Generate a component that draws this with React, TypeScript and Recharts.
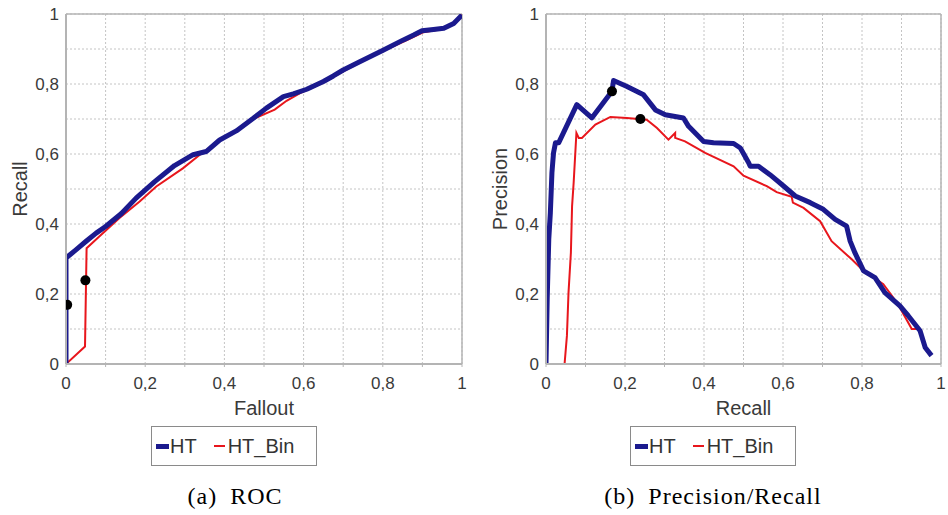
import React from "react";
import {
  ComposedChart,
  Line,
  Scatter,
  XAxis,
  YAxis,
  CartesianGrid,
  ReferenceLine,
} from "recharts";

// ROC: Fallout (x) / Recall (y)
const rocHtFallout = [0, 0, 0.01, 0.025, 0.05, 0.076, 0.1, 0.14, 0.177, 0.224, 0.274, 0.321, 0.354, 0.388, 0.43, 0.473, 0.506, 0.549, 0.574, 0.608, 0.65, 0.675, 0.7, 0.743, 0.802, 0.852, 0.878, 0.899, 0.928, 0.954, 0.979, 1.0];
const rocHtRecall = [0, 0.303, 0.312, 0.326, 0.35, 0.374, 0.393, 0.43, 0.474, 0.521, 0.567, 0.598, 0.607, 0.64, 0.666, 0.702, 0.731, 0.764, 0.772, 0.785, 0.807, 0.823, 0.84, 0.864, 0.897, 0.926, 0.94, 0.952, 0.956, 0.959, 0.973, 0.997];
const rocBinFallout = [0, 0.048, 0.052, 0.084, 0.135, 0.186, 0.228, 0.295, 0.338, 0.388, 0.43, 0.473, 0.527, 0.557, 0.591, 0.65, 0.7, 0.743, 0.802, 0.869, 0.903, 0.954, 0.979, 1.0];
const rocBinRecall = [0, 0.05, 0.331, 0.364, 0.417, 0.464, 0.507, 0.559, 0.598, 0.638, 0.664, 0.7, 0.727, 0.752, 0.774, 0.804, 0.836, 0.862, 0.895, 0.93, 0.948, 0.958, 0.972, 0.997];
const rocDotFallout = [0.003, 0.049];
const rocDotRecall = [0.169, 0.239];

// Precision / Recall
const prHtRecall = [0, 0.003, 0.007, 0.011, 0.015, 0.019, 0.024, 0.032, 0.078, 0.116, 0.167, 0.171, 0.205, 0.247, 0.277, 0.302, 0.348, 0.361, 0.399, 0.424, 0.475, 0.492, 0.513, 0.517, 0.538, 0.567, 0.597, 0.631, 0.669, 0.702, 0.732, 0.761, 0.77, 0.782, 0.804, 0.833, 0.858, 0.896, 0.917, 0.947, 0.96, 0.976];
const prHtPrecision = [0, 0.185, 0.356, 0.432, 0.546, 0.603, 0.632, 0.632, 0.741, 0.703, 0.779, 0.81, 0.793, 0.769, 0.726, 0.712, 0.703, 0.679, 0.636, 0.632, 0.63, 0.617, 0.575, 0.565, 0.565, 0.541, 0.513, 0.48, 0.461, 0.442, 0.413, 0.394, 0.351, 0.318, 0.266, 0.247, 0.204, 0.166, 0.138, 0.095, 0.047, 0.024];
const prBinRecall = [0.047, 0.053, 0.057, 0.063, 0.066, 0.07, 0.077, 0.083, 0.091, 0.125, 0.163, 0.205, 0.255, 0.281, 0.31, 0.327, 0.327, 0.352, 0.403, 0.475, 0.5, 0.559, 0.584, 0.622, 0.625, 0.652, 0.694, 0.723, 0.774, 0.804, 0.83, 0.854, 0.879, 0.896, 0.926, 0.943];
const prBinPrecision = [0, 0.081, 0.204, 0.318, 0.451, 0.518, 0.66, 0.646, 0.646, 0.684, 0.706, 0.703, 0.698, 0.674, 0.641, 0.66, 0.646, 0.636, 0.603, 0.565, 0.538, 0.508, 0.491, 0.478, 0.461, 0.446, 0.408, 0.351, 0.299, 0.266, 0.247, 0.228, 0.19, 0.161, 0.1, 0.1];
const prDotRecall = [0.167, 0.239];
const prDotPrecision = [0.779, 0.7];

const axisTicks = [0, 0.1, 0.2, 0.3, 0.4, 0.5, 0.6, 0.7, 0.8, 0.9, 1];
const seriesNames = ["HT", "HT_Bin"];

const BLUE = "#1b1a8e";
const RED = "#e8161c";
const FRAME = "#b4b4b4";
const TICK_FONT = { fontFamily: "'Liberation Sans', Arial, sans-serif", fontSize: 17, fill: "#3a3a3a" };
const LABEL_FONT = { fontFamily: "'Liberation Sans', Arial, sans-serif", fontSize: 20, fill: "#3a3a3a" };

const zip = (xs: number[], ys: number[]) => xs.map((x, i) => ({ x, y: ys[i] }));

const fmtTick = (v: number) => {
  const r = Math.round(v * 10);
  if (r % 2) return "";
  if (r === 0) return "0";
  if (r === 10) return "1";
  return "0," + r;
};

const Dot = (props: any) => <circle cx={props.cx} cy={props.cy} r={5} fill="#000" />;

interface PanelProps {
  left: number;
  width: number;
  rightMargin: number;
  xLabel: string;
  yLabel: string;
  ht: { x: number; y: number }[];
  bin: { x: number; y: number }[];
  dots: { x: number; y: number }[];
}

function Panel({ left, width, rightMargin, xLabel, yLabel, ht, bin, dots }: PanelProps) {
  return (
    <div style={{ position: "absolute", left, top: 0 }}>
      <ComposedChart width={width} height={420} margin={{ top: 14, right: rightMargin, bottom: 0, left: 0 }}>
        <CartesianGrid stroke="#c4c4c4" strokeDasharray="2 2" />
        <XAxis
          type="number"
          dataKey="x"
          domain={[0, 1]}
          ticks={axisTicks}
          tickFormatter={fmtTick}
          allowDataOverflow
          height={56}
          tickSize={3}
          tickMargin={10}
          tick={TICK_FONT}
          stroke={FRAME}
          axisLine={{ stroke: FRAME, strokeWidth: 2 }}
          label={{ value: xLabel, position: "insideBottom", offset: 5, style: LABEL_FONT }}
        />
        <YAxis
          type="number"
          dataKey="y"
          domain={[0, 1]}
          ticks={axisTicks}
          tickFormatter={fmtTick}
          allowDataOverflow
          width={66}
          tickSize={3}
          tickMargin={4}
          tickLine={false}
          tick={TICK_FONT}
          axisLine={{ stroke: FRAME, strokeWidth: 2 }}
          label={{ value: yLabel, angle: -90, position: "insideLeft", offset: 20, style: { ...LABEL_FONT, textAnchor: "middle" } }}
        />
        <ReferenceLine y={1} stroke={FRAME} strokeWidth={1.5} />
        <ReferenceLine x={1} stroke={FRAME} strokeWidth={1.5} />
        <Line data={bin} dataKey="y" type="linear" stroke={RED} strokeWidth={2} dot={false} isAnimationActive={false} />
        <Line data={ht} dataKey="y" type="linear" stroke={BLUE} strokeWidth={5} strokeLinejoin="round" dot={false} isAnimationActive={false} />
        <Scatter data={dots} shape={Dot} isAnimationActive={false} />
      </ComposedChart>
    </div>
  );
}

function LegendBox({ left }: { left: number }) {
  const text = { fontFamily: "'Liberation Sans', Arial, sans-serif", fontSize: 20, color: "#333", lineHeight: "20px" };
  return (
    <div
      style={{
        position: "absolute",
        left,
        top: 426,
        width: 164,
        height: 38,
        border: "1px solid #8a8a8a",
        display: "flex",
        alignItems: "center",
        boxSizing: "content-box",
      }}
    >
      <span style={{ display: "inline-block", width: 13, height: 5, background: BLUE, marginLeft: 4, marginRight: 1 }} />
      <span style={text}>{seriesNames[0]}</span>
      <span style={{ display: "inline-block", width: 11, height: 2, background: RED, marginLeft: 17, marginRight: 3 }} />
      <span style={text}>{seriesNames[1]}</span>
    </div>
  );
}

const captionStyle: React.CSSProperties = {
  position: "absolute",
  top: 483,
  fontFamily: "'Liberation Serif', 'Times New Roman', serif",
  fontSize: 24,
  letterSpacing: 1,
  wordSpacing: 6,
  color: "#000",
  textAlign: "center",
  whiteSpace: "nowrap",
};

export default function App() {
  return (
    <div style={{ position: "absolute", left: 0, top: 0, width: 948, height: 515, background: "#fff", overflow: "hidden" }}>
      <Panel
        left={0}
        width={480}
        rightMargin={18}
        xLabel="Fallout"
        yLabel="Recall"
        ht={zip(rocHtFallout, rocHtRecall)}
        bin={zip(rocBinFallout, rocBinRecall)}
        dots={zip(rocDotFallout, rocDotRecall)}
      />
      <Panel
        left={480}
        width={468}
        rightMargin={7}
        xLabel="Recall"
        yLabel="Precision"
        ht={zip(prHtRecall, prHtPrecision)}
        bin={zip(prBinRecall, prBinPrecision)}
        dots={zip(prDotRecall, prDotPrecision)}
      />
      <LegendBox left={151} />
      <LegendBox left={630} />
      <div style={{ ...captionStyle, left: 0, width: 470 }}>(a) ROC</div>
      <div style={{ ...captionStyle, left: 478, width: 470 }}>(b) Precision/Recall</div>
    </div>
  );
}
